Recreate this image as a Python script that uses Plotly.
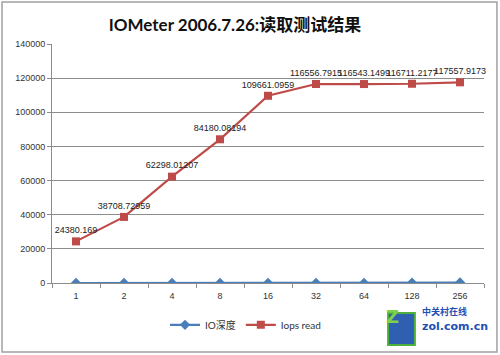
import plotly.graph_objects as go

categories = ["1", "2", "4", "8", "16", "32", "64", "128", "256"]
io_depth = [1, 2, 4, 8, 16, 32, 64, 128, 256]
iops_read = [24380.169, 38708.72959, 62298.01207, 84180.08194, 109661.0959,
             116556.7915, 116543.1499, 116711.2177, 117557.9173]
iops_labels = ["24380.169", "38708.72959", "62298.01207", "84180.08194", "109661.0959",
               "116556.7915", "116543.1499", "116711.2177", "117557.9173"]
y_ticks = [0, 20000, 40000, 60000, 80000, 100000, 120000, 140000]
y_tick_labels = ["0", "20000", "40000", "60000", "80000", "100000", "120000", "140000"]

blue = "#4A7EBB"
red = "#BE4B48"
font_fam = "Lato, Open Sans, Noto Sans CJK SC, sans-serif"
tick_fam = "Liberation Sans, Arial, sans-serif"

fig = go.Figure()
fig.add_trace(go.Scatter(
    x=categories, y=io_depth, name="IO深度", mode="lines+markers",
    line=dict(color=blue, width=2.2),
    marker=dict(symbol="diamond", size=8, color=blue),
))
fig.add_trace(go.Scatter(
    x=categories, y=iops_read, name="Iops read", mode="lines+markers+text",
    line=dict(color=red, width=2.2),
    marker=dict(symbol="square", size=8, color=red),
    text=iops_labels, textposition="top center",
    textfont=dict(size=9, color="#222222", family=tick_fam),
    cliponaxis=False,
))

fig.update_layout(
    width=500, height=355,
    paper_bgcolor="white", plot_bgcolor="white",
    margin=dict(l=52, r=16, t=44, b=72, autoexpand=False),
    title=dict(text="<b>IOMeter 2006.7.26:读取测试结果</b>", xref="container", x=0.47,
               xanchor="center", y=0.93, yanchor="middle",
               font=dict(size=17, color="#111111", family=font_fam)),
    showlegend=True,
    legend=dict(orientation="h", xref="container", yref="container", x=0.33, xanchor="left",
                y=0.085, yanchor="middle",
                font=dict(size=10, color="#333333", family=font_fam),
                itemwidth=30, bgcolor="rgba(0,0,0,0)"),
    font=dict(family=font_fam),
)

fig.update_xaxes(
    type="category", showgrid=False, showline=True, linecolor="#8c8c8c", linewidth=1,
    ticks="outside", tickson="boundaries", ticklen=4, tickcolor="#8c8c8c",
    ticklabelstandoff=4,
    tickfont=dict(size=9, color="#333333", family=tick_fam),
    range=[-0.5, 8.5],
)
fig.update_yaxes(
    range=[0, 140000], tickvals=y_ticks, ticktext=y_tick_labels,
    showgrid=True, gridcolor="#8c8c8c", gridwidth=1,
    showline=True, linecolor="#8c8c8c", linewidth=1, ticks="outside", ticklen=4,
    tickcolor="#8c8c8c", zeroline=False,
    tickfont=dict(size=9, color="#333333", family=tick_fam),
)

# chart border
fig.add_shape(type="rect", xref="paper", yref="paper", x0=-0.1157, x1=1.030, y0=-0.289, y1=1.176,
              line=dict(color="#a0a0a0", width=1.5), layer="below")
# logo approximation
fig.add_shape(type="rect", xref="paper", yref="paper", x0=0.778, x1=0.840, y0=-0.259, y1=-0.1255,
              fillcolor="#2f5fb0", line=dict(color="#4cae3c", width=2))
fig.add_annotation(text="<b>Z</b>", xref="paper", yref="paper", x=0.809, y=-0.192,
                   showarrow=False, font=dict(size=18, color="#7fd04a", family="DejaVu Sans"))
fig.add_annotation(text="<b>中关村在线</b>", xref="paper", yref="paper", x=0.852, y=-0.155,
                   xanchor="left", showarrow=False,
                   font=dict(size=9, color="#1e50b4", family="Noto Sans CJK SC"))
fig.add_annotation(text="<b>zol.com.cn</b>", xref="paper", yref="paper", x=0.852, y=-0.218,
                   xanchor="left", showarrow=False,
                   font=dict(size=11, color="#1e50b4", family="DejaVu Sans"))

fig.write_html("out.html", config={"displayModeBar": False},
               post_script="document.body.style.margin='0';")
